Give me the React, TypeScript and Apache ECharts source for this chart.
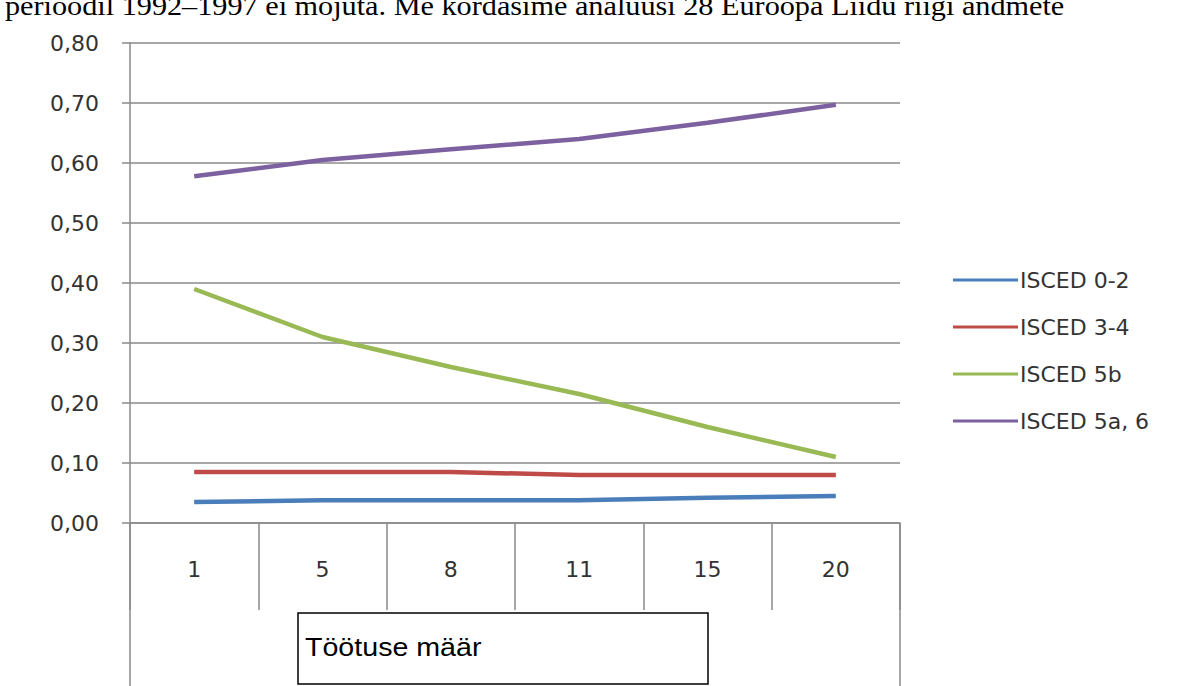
import React, { useEffect, useRef } from "react";
import * as echarts from "echarts";

const categories = ["1", "5", "8", "11", "15", "20"];
const seriesNames = ["ISCED 0-2", "ISCED 3-4", "ISCED 5b", "ISCED 5a, 6"];
const isced02 = [0.035, 0.038, 0.038, 0.038, 0.042, 0.045];
const isced34 = [0.085, 0.085, 0.085, 0.08, 0.08, 0.08];
const isced5b = [0.39, 0.31, 0.26, 0.215, 0.16, 0.11];
const isced5a6 = [0.578, 0.605, 0.623, 0.64, 0.667, 0.697];
const colors = ["#4A7EBB", "#BE4B48", "#98B954", "#7D60A0"];
const topText = "perioodil 1992–1997 ei mõjuta. Me kordasime analüüsi 28 Euroopa Liidu riigi andmete";
const axisTitle = "Töötuse määr";

export default function App() {
  const ref = useRef<HTMLDivElement>(null);
  useEffect(() => {
    document.body.style.margin = "0";
    const chart = echarts.init(ref.current!, null, { renderer: "svg" });
    const gridColor = "#8a8a8a";
    const font = "DejaVu Sans";
    const allData = [isced02, isced34, isced5b, isced5a6];
    chart.setOption({
      animation: false,
      backgroundColor: "#ffffff",
      grid: { left: 130, top: 43, width: 770, height: 480, containLabel: false },
      legend: {
        orient: "vertical",
        left: 948,
        top: 264,
        itemWidth: 65,
        itemHeight: 3,
        itemGap: 25,
        icon: "rect",
        textStyle: { fontFamily: font, fontSize: 22, color: "#333333", padding: [0, 0, 0, -3] },
        data: seriesNames,
      },
      xAxis: {
        type: "category",
        data: categories,
        boundaryGap: true,
        axisLine: { show: true, lineStyle: { color: gridColor, width: 1.5 } },
        axisTick: { show: true, interval: 0, length: 87, lineStyle: { color: gridColor, width: 1.5 } },
        axisLabel: { interval: 0, margin: 35, fontFamily: font, fontSize: 22, color: "#333333" },
        splitLine: { show: false },
      },
      yAxis: {
        type: "value",
        min: 0,
        max: 0.8,
        interval: 0.1,
        axisLine: { show: true, lineStyle: { color: gridColor, width: 1.5 } },
        axisTick: { show: true, length: 8, lineStyle: { color: gridColor, width: 1.5 } },
        axisLabel: {
          margin: 31,
          fontFamily: font,
          fontSize: 22,
          color: "#333333",
          formatter: (v: number) => v.toFixed(2).replace(".", ","),
        },
        splitLine: { show: true, lineStyle: { color: gridColor, width: 1.5 } },
      },
      series: seriesNames.map((name, i) => ({
        name,
        type: "line",
        data: allData[i],
        showSymbol: false,
        symbol: "none",
        lineStyle: { color: colors[i], width: 4.5 },
        itemStyle: { color: colors[i] },
        z: 3,
      })),
      graphic: [
        {
          type: "text",
          x: 5,
          y: -9,
          scaleX: 1.08,
          style: {
            text: topText,
            fontFamily: "Liberation Serif",
            fontSize: 28,
            fill: "#000000",
            align: "left",
            verticalAlign: "top",
          },
        },
        {
          type: "line",
          shape: { x1: 130, y1: 523, x2: 130, y2: 686 },
          style: { stroke: gridColor, lineWidth: 1.5 },
        },
        {
          type: "line",
          shape: { x1: 900, y1: 523, x2: 900, y2: 686 },
          style: { stroke: gridColor, lineWidth: 1.5 },
        },
        {
          type: "rect",
          shape: { x: 298, y: 613, width: 410, height: 71 },
          style: { fill: "#ffffff", stroke: "#000000", lineWidth: 1.5 },
          z: 10,
        },
        {
          type: "text",
          x: 305,
          y: 634,
          scaleX: 1.1,
          z: 11,
          style: {
            text: axisTitle,
            fontFamily: "Liberation Sans",
            fontSize: 26,
            fill: "#000000",
            align: "left",
            verticalAlign: "top",
          },
        },
      ],
    });
    return () => chart.dispose();
  }, []);
  return <div ref={ref} style={{ position: "absolute", left: 0, top: 0, width: 1192, height: 686 }} />;
}
